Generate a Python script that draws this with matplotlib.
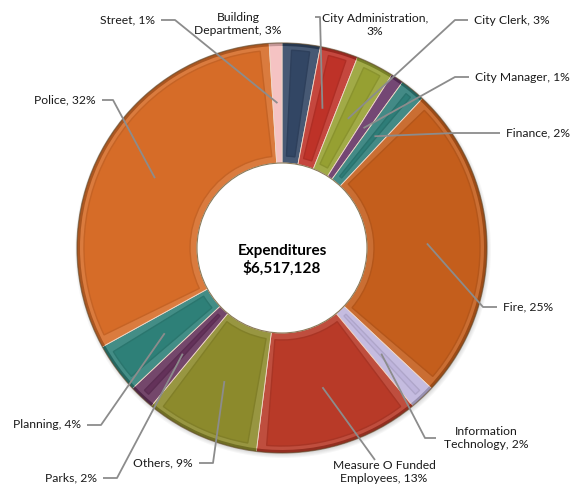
import numpy as np
import matplotlib.pyplot as plt
from matplotlib.patches import Wedge, Circle
from matplotlib.colors import to_rgb

plt.rcParams['font.family'] = ['Lato', 'DejaVu Sans']

# department share of expenditures (percent), Excel order: alphabetical, clockwise from 12 o'clock
departments = ['Building\nDepartment', 'City Administration,\n', 'City Clerk', 'City Manager',
               'Finance', 'Fire', 'Information\nTechnology', 'Measure O Funded\nEmployees',
               'Others', 'Parks', 'Planning', 'Police', 'Street']
shares = [3, 3, 3, 1, 2, 25, 2, 13, 9, 2, 4, 32, 1]
colors = ['#324664', '#BE3228', '#96A032', '#643264', '#2E7D78', '#C45E1C', '#BEB4DC',
          '#B83A28', '#8C8A2C', '#64325A', '#2E8078', '#D66C28', '#F4BCBC']
total_label = 'Expenditures\n$6,517,128'

W, H = 573, 498
fig = plt.figure(figsize=(W / 100, H / 100), dpi=100)
ax = fig.add_axes([0, 0, 1, 1])
ax.set_xlim(0, W)
ax.set_ylim(0, H)
ax.set_aspect('equal')
ax.axis('off')

cx, cy = 282, 250
r_out, r_in = 205, 85


def shade(c, f):
    r, g, b = to_rgb(c)
    if f > 0:
        return (r + (1 - r) * f, g + (1 - g) * f, b + (1 - b) * f)
    return (r * (1 + f), g * (1 + f), b * (1 + f))


# soft outer shadow
for k in range(5):
    ax.add_patch(Circle((cx + 1, cy - 2), r_out + 3 - k, color='#000000', alpha=0.03, lw=0))

frac = np.array(shares, dtype=float) / sum(shares)
edges = np.concatenate([[0], np.cumsum(frac)])
bevel = 7
mids = []
for i, c in enumerate(colors):
    a1 = 90 - edges[i + 1] * 360
    a2 = 90 - edges[i] * 360
    # bevel frame, then the face inset inside it
    ax.add_patch(Wedge((cx, cy), r_out, a1, a2, width=r_out - r_in,
                       facecolor=shade(c, 0.1), edgecolor='#f0d8c8', lw=0.6))
    da = np.degrees(bevel / 145)
    if a2 - a1 > 2 * da + 1:
        ax.add_patch(Wedge((cx, cy), r_out - bevel, a1 + da, a2 - da,
                           width=r_out - r_in - 2 * bevel, facecolor=c,
                           edgecolor=shade(c, -0.08), lw=1.0))
    # darker rim along the outside edge
    ax.add_patch(Wedge((cx, cy), r_out, a1, a2, width=3,
                       facecolor=shade(c, -0.2), lw=0))
    mids.append(np.radians((a1 + a2) / 2))

ax.add_patch(Circle((cx, cy), r_out, facecolor='none', edgecolor='#5a4a30', lw=0.9, alpha=0.6))
ax.add_patch(Circle((cx, cy), r_in, facecolor='white', edgecolor='#8a7a5a', lw=0.8))
ax.text(cx, cy - 12, total_label, ha='center', va='center', fontsize=11,
        fontweight='bold', linespacing=1.2)

# label text, text position (px), elbow x, alignment
labels = [
    ('Building\nDepartment, 3%', (238, 474), None, 'center'),
    ('City Administration,\n3%', (375, 473), 320, 'center'),
    ('City Clerk, 3%', (474, 478), 455, 'left'),
    ('City Manager, 1%', (475, 421), 455, 'left'),
    ('Finance, 2%', (506, 365), 455, 'left'),
    ('Fire, 25%', (503, 191), 483, 'left'),
    ('Information\nTechnology, 2%', (486, 60), 425, 'center'),
    ('Measure O Funded\nEmployees, 13%', (384, 26), None, 'center'),
    ('Others, 9%', (193, 35), 213, 'right'),
    ('Parks, 2%', (97, 20), 117, 'right'),
    ('Planning, 4%', (81, 73), 101, 'right'),
    ('Police, 32%', (96, 398), 113, 'right'),
    ('Street, 1%', (155, 478), 175, 'right'),
]
line_kw = dict(color='#8c8c8c', lw=1.3, solid_capstyle='butt')
for i, (txt, (tx, ty), ex, ha) in enumerate(labels):
    ax.text(tx, ty, txt, ha=ha, va='center', fontsize=8.7, linespacing=1.25, color='#1a1a1a')
    px = cx + 145 * np.cos(mids[i])
    py = cy + 145 * np.sin(mids[i])
    if ex is None:
        if i == 7:
            ax.plot([375, px], [ty + 12, py], **line_kw)
        continue
    if ha == 'center':
        sx = tx - 60 if i == 1 else tx - 50
        ly = ty + 8 if i == 1 else ty
    elif ha == 'left':
        sx = tx - 6
        ly = ty
    else:
        sx = tx + 6
        ly = ty
    ax.plot([sx, ex, px], [ly, ly, py], **line_kw)

fig.savefig('out.png', dpi=100)
